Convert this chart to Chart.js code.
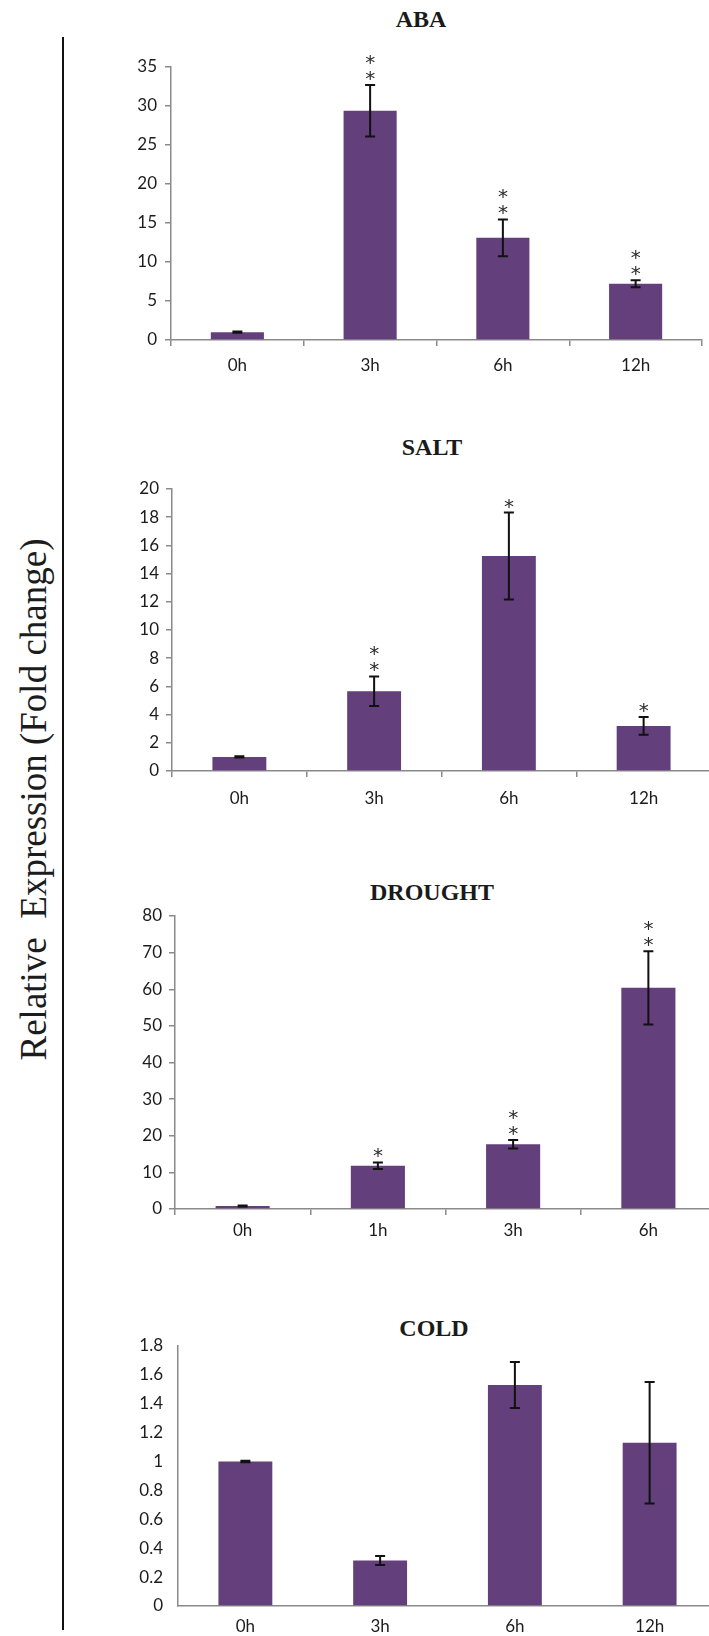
<!DOCTYPE html>
<html>
<head>
<meta charset="utf-8">
<script src="https://cdn.jsdelivr.net/npm/chart.js@4.4.1/dist/chart.umd.min.js"></script>
<style>
  body { margin: 0; background: #fff; }
  #wrap { position: relative; width: 709px; height: 1636px; overflow: hidden; background: #fff; }
  #wrap canvas { position: absolute; left: 0; }
  #leftLine { position: absolute; left: 62px; top: 37px; width: 2px; height: 1593px; background: #111; }
  #yTitle {
    position: absolute; left: -267px; top: 781px; width: 600px; height: 37px;
    line-height: 37px; text-align: center; white-space: pre;
    font-family: "Liberation Serif", "Times New Roman", serif; font-size: 37px; color: #1c1c1c;
    transform: rotate(-90deg);
  }
  .ptitle {
    position: absolute; width: 300px; height: 28px; line-height: 28px; text-align: center;
    font-family: "Liberation Serif", "Times New Roman", serif; font-size: 24px; font-weight: bold; color: #1a1a1a;
  }
</style>
</head>
<body>
<div id="wrap">
  <div id="leftLine"></div>
  <div id="yTitle">Relative  Expression (Fold change)</div>
</div>
<script>
// ABA
const abaLabels = ["0h", "3h", "6h", "12h"];
const abaValues = [1.0, 29.4, 13.1, 7.2];
const abaErrors = [0.08, 3.3, 2.35, 0.45];
const abaStars = ["", "**", "**", "**"];
const abaTicks = [0, 5, 10, 15, 20, 25, 30, 35];

// SALT
const saltLabels = ["0h", "3h", "6h", "12h"];
const saltValues = [1.0, 5.66, 15.25, 3.2];
const saltErrors = [0.04, 1.05, 3.08, 0.63];
const saltStars = ["", "**", "*", "*"];
const saltTicks = [0, 2, 4, 6, 8, 10, 12, 14, 16, 18, 20];

// DROUGHT
const droughtLabels = ["0h", "1h", "3h", "6h"];
const droughtValues = [0.8, 11.8, 17.7, 60.4];
const droughtErrors = [0.15, 0.9, 1.15, 10.0];
const droughtStars = ["", "*", "**", "**"];
const droughtTicks = [0, 10, 20, 30, 40, 50, 60, 70, 80];

// COLD
const coldLabels = ["0h", "3h", "6h", "12h"];
const coldValues = [1.0, 0.315, 1.53, 1.13];
const coldErrors = [0.005, 0.032, 0.16, 0.42];
const coldStars = ["", "", "", ""];
const coldTicks = [0, 0.2, 0.4, 0.6, 0.8, 1, 1.2, 1.4, 1.6, 1.8];

const BAR_COLOR = "#633f7b";
const AXIS_COLOR = "#8a8a8a";
const CANVAS_W = 740;
const PAD_LEFT = 90;

Chart.defaults.color = "#1c1c1c";
Chart.defaults.font.family = "Lato, 'Open Sans', sans-serif";

// error bars + significance stars, drawn from the y scale
const errorStars = {
  id: "errorStars",
  afterDatasetsDraw(chart) {
    const ctx = chart.ctx;
    const ds = chart.data.datasets[0];
    const meta = chart.getDatasetMeta(0);
    const yScale = chart.scales.y;
    ctx.save();
    meta.data.forEach((bar, i) => {
      const v = ds.data[i];
      const e = ds.errors[i];
      const top = yScale.getPixelForValue(v + e);
      const bot = yScale.getPixelForValue(v - e);
      ctx.strokeStyle = "#111";
      ctx.lineWidth = 2;
      ctx.beginPath();
      ctx.moveTo(bar.x, top);
      ctx.lineTo(bar.x, bot);
      ctx.moveTo(bar.x - 5, top);
      ctx.lineTo(bar.x + 5, top);
      ctx.moveTo(bar.x - 5, bot);
      ctx.lineTo(bar.x + 5, bot);
      ctx.stroke();

      const s = ds.stars[i] || "";
      ctx.fillStyle = "#2a2a2a";
      ctx.font = "20px 'DejaVu Sans', sans-serif";
      ctx.textAlign = "center";
      ctx.textBaseline = "alphabetic";
      for (let k = 0; k < s.length; k++) {
        ctx.fillText("*", bar.x, top - 16 * k);
      }
    });
    ctx.restore();
  },
};

const makePanel = (p) => {
  const wrap = document.getElementById("wrap");

  const t = document.createElement("div");
  t.className = "ptitle";
  t.textContent = p.title;
  t.style.left = p.titleX - 150 + "px";
  t.style.top = p.titleY - 14 + "px";
  wrap.appendChild(t);

  const cnv = document.createElement("canvas");
  cnv.width = CANVAS_W;
  cnv.height = p.height;
  cnv.style.top = p.top + "px";
  cnv.style.width = CANVAS_W + "px";
  cnv.style.height = p.height + "px";
  wrap.appendChild(cnv);

  return new Chart(cnv.getContext("2d"), {
    type: "bar",
    data: {
      labels: p.labels,
      datasets: [
        {
          data: p.values,
          errors: p.errors,
          stars: p.stars,
          backgroundColor: BAR_COLOR,
          borderWidth: 0,
          barPercentage: 0.4,
          categoryPercentage: 1,
        },
      ],
    },
    options: {
      responsive: false,
      animation: false,
      devicePixelRatio: 1,
      layout: { padding: { left: PAD_LEFT, right: CANVAS_W - p.right, top: p.plotTop, bottom: 0 } },
      plugins: {
        legend: { display: false },
        tooltip: { enabled: false },
      },
      scales: {
        x: {
          offset: true,
          grid: {
            offset: true,
            drawOnChartArea: false,
            drawTicks: p.tickLen > 0,
            tickLength: p.tickLen,
            color: AXIS_COLOR,
            lineWidth: 1.5,
          },
          border: { display: true, color: AXIS_COLOR, width: 1.5 },
          ticks: { padding: p.xTickPad, font: { size: 17 }, color: "#1c1c1c" },
          afterFit: (scale) => {
            scale.height = p.xHeight;
          },
        },
        y: {
          min: 0,
          max: p.ticks[p.ticks.length - 1],
          grid: {
            drawOnChartArea: false,
            drawTicks: p.tickLen > 0,
            tickLength: p.tickLen,
            color: AXIS_COLOR,
            lineWidth: 1.5,
          },
          border: { display: true, color: AXIS_COLOR, width: 1.5 },
          ticks: {
            padding: p.yTickPad,
            font: { size: 17 },
            color: "#1c1c1c",
            callback: (v) => String(v),
          },
          afterBuildTicks: (scale) => {
            scale.ticks = p.ticks.map((v) => ({ value: v }));
          },
          afterFit: (scale) => {
            scale.width = p.left - PAD_LEFT;
          },
        },
      },
    },
    plugins: [errorStars],
  });
};

const panels = [
  {
    title: "ABA", labels: abaLabels, values: abaValues, errors: abaErrors, stars: abaStars, ticks: abaTicks,
    titleX: 421, titleY: 19, top: 0, height: 385, plotTop: 67, left: 171, right: 702, xHeight: 45,
    tickLen: 6, xTickPad: 9, yTickPad: 8,
  },
  {
    title: "SALT", labels: saltLabels, values: saltValues, errors: saltErrors, stars: saltStars, ticks: saltTicks,
    titleX: 432, titleY: 447, top: 400, height: 416, plotTop: 89, left: 172, right: 711, xHeight: 45,
    tickLen: 6, xTickPad: 11, yTickPad: 7,
  },
  {
    title: "DROUGHT", labels: droughtLabels, values: droughtValues, errors: droughtErrors, stars: droughtStars, ticks: droughtTicks,
    titleX: 432, titleY: 892, top: 860, height: 394, plotTop: 56, left: 175, right: 716, xHeight: 45,
    tickLen: 6, xTickPad: 5, yTickPad: 7,
  },
  {
    title: "COLD", labels: coldLabels, values: coldValues, errors: coldErrors, stars: coldStars, ticks: coldTicks,
    titleX: 434, titleY: 1328, top: 1300, height: 336, plotTop: 46, left: 178, right: 717, xHeight: 30,
    tickLen: 0, xTickPad: 10, yTickPad: 15,
  },
];

panels.forEach(makePanel);
</script>
</body>
</html>
